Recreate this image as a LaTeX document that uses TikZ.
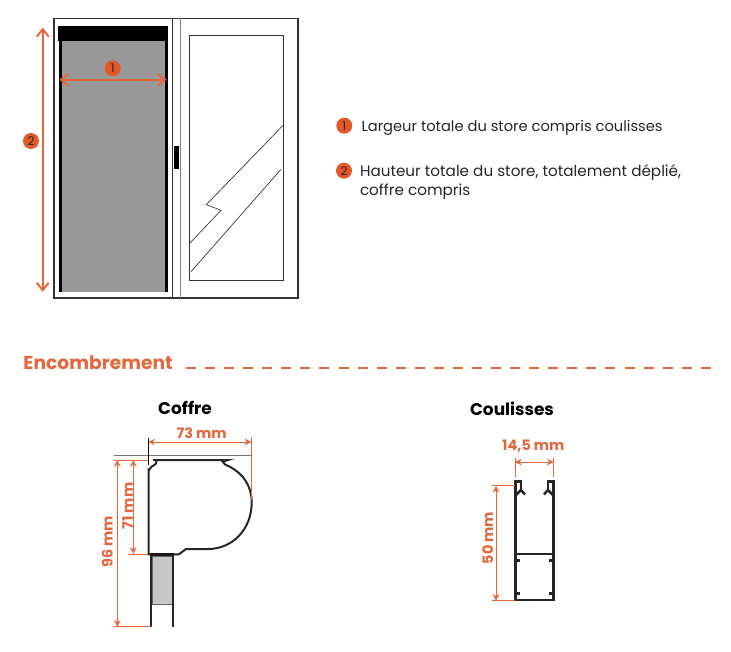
\documentclass[tikz,border=0pt]{standalone}
\usepackage{fontspec}
\usetikzlibrary{arrows.meta}
\setmainfont{Poppins}
\definecolor{orangecote}{RGB}{226,104,60}
\definecolor{orangepuce}{RGB}{226,88,40}
\begin{document}
\begin{tikzpicture}[x=0.75pt,y=-0.75pt]
\tikzset{ inner sep=0pt, outer sep=0pt,
  fleche/.style={orangecote, line width=0.7pt, {Stealth[length=5pt,width=5pt]}-{Stealth[length=5pt,width=5pt]}},
  grande/.style={orangecote, line width=1.5pt, {Straight Barb[length=5.5pt,width=9pt]}-{Straight Barb[length=5.5pt,width=9pt]}},
  repere/.style={orangecote, line width=0.5pt},
  puce/.style={circle, fill=orangepuce, minimum size=12pt, font=\fontsize{9}{9}\selectfont, text=black!85},
  legende/.style={anchor=west, font=\fontsize{11}{14.2}\selectfont, text=black!85, align=left},
  titre/.style={font=\fontsize{12.7}{13}\selectfont\bfseries},
  mesure/.style={orangecote, font=\fontsize{10.8}{10.8}\selectfont\bfseries},
  profil/.style={line width=1.5pt, black!85},
}

\useasboundingbox (0,0) rectangle (731,652);

% fenetre
\draw [black!80, line width=0.8pt] (54,18.5) rectangle (298,298);
\draw [black!80, line width=0.6pt] (172.3,18.5) -- (172.3,298);
\draw [gray, line width=1pt] (180.3,18.5) -- (180.3,298);
\draw [black!80, line width=0.7pt] (189.3,35.7) rectangle (283,280.7);
\fill [black] (174,146) rectangle (179,169);

% store
\fill [black!40] (59,40) rectangle (168,292.3);
\fill [black] (58,26) rectangle (168,40.7);
\fill [black] (59,40) rectangle (62,292.3);
\fill [black] (165,40) rectangle (168,292.3);

% eclair
\draw [black!80, line width=0.5pt] (282.7,125.7) -- (206.3,204.7) -- (221,210.3) -- (190,243);
\draw [black!80, line width=0.5pt] (281,169.3) -- (191,271.7);

% cotes du store
\coordinate (H1) at (59.5,79.7);
\coordinate (H2) at (166.7,79.7);
\coordinate (V1) at (42.7,27.7);
\coordinate (V2) at (42.7,291.7);
\draw [grande] (H1) -- (H2);
\draw [grande] (V1) -- (V2);
\node [puce] (n1) at (112.7,68.3) {1};
\node [puce] (n2) at (31,141) {2};

% legende
\node [puce] (l1) at (344.3,125.7) {1};
\node [puce] (l2) at (344,170.7) {2};
\node [legende] (t1) at (361.5,128) {Largeur totale du store compris coulisses};
\node [legende, font=\fontsize{11.4}{14.2}\selectfont] (t2) at (360,182) {Hauteur totale du store, totalement déplié,\\coffre compris};

% titre
\node [anchor=west, orangecote, font=\fontsize{14}{14}\selectfont\bfseries] (enc) at (23.5,363) {Encombrement};
\coordinate (D1) at (186,368);
\coordinate (D2) at (713,368);
\draw [orangecote, line width=2.2pt, dash pattern=on 7.5pt off 6.8pt] (D1) -- (D2);

\node [titre] (coffre) at (185,407.7) {Coffre};
\node [titre] (coul) at (512,409) {Coulisses};

% coffre
\draw [black!55, line width=1.1pt] (114,455.7) -- (250.7,455.7);
\draw [black, line width=0.5pt] (148.3,437.7) -- (148.3,465);
\draw [profil] (148.5,554.3) -- (148.5,470) to [out=-90, in=180] (153.3,465.7)
  to [out=0, in=-100] (156.7,460) -- (153,460) -- (228,460) -- (222.7,461.7) -- (225,464.5)
  .. controls (243,472) and (251.7,486) .. (251.7,502)
  .. controls (251.7,530) and (232,549) .. (208,549) -- (186,549) -- (179,554.3) -- cycle;
\draw [black!90, line width=2.2pt] (150,554.5) -- (174,554.5);
\fill [black!22] (152.7,556) rectangle (172,604.3);
\draw [black!60, line width=0.6pt] (152.7,556) rectangle (172,604.3);
\draw [profil, line width=1.3pt] (151,555) -- (151,627.3);
\draw [profil, line width=1.3pt] (173.3,555) -- (173.3,627.3);

% cotes du coffre
\coordinate (a1) at (148.3,442);
\coordinate (a2) at (251.3,442);
\coordinate (a3) at (251.3,436.7);
\coordinate (a4) at (251.3,500);
\draw [fleche] (a1) -- (a2);
\draw [repere] (a3) -- (a4);
\node [mesure] (m73) at (201.7,432.7) {73 mm};

\coordinate (b1) at (117.3,460);
\coordinate (b2) at (117.3,626.7);
\coordinate (b3) at (114,460);
\coordinate (b4) at (148,460);
\coordinate (b5) at (114,626.7);
\coordinate (b6) at (151,626.7);
\draw [fleche] (b1) -- (b2);
\draw [repere] (b3) -- (b4);
\draw [repere] (b5) -- (b6);
\node [mesure, rotate=90] (m96) at (107.3,541.7) {96 mm};

\coordinate (c1) at (133.3,460);
\coordinate (c2) at (133.3,554);
\coordinate (c3) at (128,554);
\coordinate (c4) at (148,554);
\draw [fleche] (c1) -- (c2);
\draw [repere] (c3) -- (c4);
\node [mesure, rotate=90] (m71) at (127.7,506) {71 mm};

% coulisse
\draw [profil, line width=1.9pt] (521.5,481.5) -- (515.5,481.5) -- (515.5,600) -- (553.5,600) -- (553.5,481.5) -- (547,481.5);
\draw [profil, line width=1.9pt] (515.5,554) -- (553.5,554);
\draw [profil] (520.5,481.5) -- (520.5,490);
\draw [profil] (548,481.5) -- (548,490);
\draw [profil, line width=1.9pt] (516,495) -- (521,490) -- (525,494.5);
\draw [profil, line width=1.9pt] (553,495) -- (548,490) -- (544,494.5);
\foreach \ty in {560.7,593.3} {
  \draw [profil, line width=2pt] (515.5,\ty) -- (520,\ty);
  \draw [profil, line width=2pt] (553.5,\ty) -- (549,\ty);
}

% cotes de la coulisse
\coordinate (d1) at (515,462);
\coordinate (d2) at (553.7,462);
\coordinate (d3) at (515,457.7);
\coordinate (d4) at (515,476.7);
\coordinate (d5) at (553.7,457.7);
\coordinate (d6) at (553.7,476.7);
\draw [fleche] (d1) -- (d2);
\draw [repere] (d3) -- (d4);
\draw [repere] (d5) -- (d6);
\node [mesure] (m14) at (533.3,446) {14,5 mm};

\coordinate (e1) at (496,486);
\coordinate (e2) at (496,600.7);
\coordinate (e3) at (492,485.7);
\coordinate (e4) at (515,485.7);
\coordinate (e5) at (492,600.7);
\coordinate (e6) at (515,600.7);
\draw [fleche] (e1) -- (e2);
\draw [repere] (e3) -- (e4);
\draw [repere] (e5) -- (e6);
\node [mesure, rotate=90] (m50) at (487.7,538) {50 mm};

\end{tikzpicture}
\end{document}
